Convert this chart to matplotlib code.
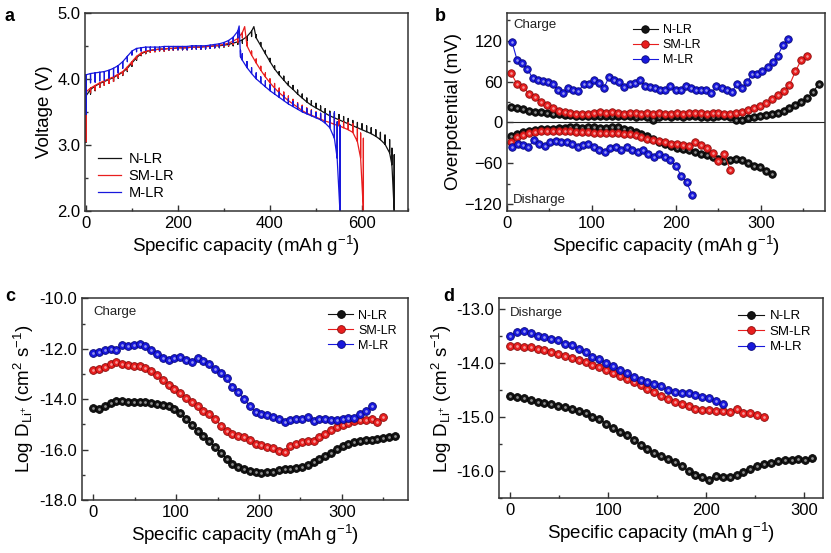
import numpy as np
import matplotlib
matplotlib.use('Agg')
import matplotlib.pyplot as plt
from matplotlib.ticker import MultipleLocator, FormatStrFormatter

plt.rcParams['font.family'] = ['Liberation Sans', 'DejaVu Sans']
plt.rcParams['mathtext.default'] = 'regular'

labels = ['N-LR', 'SM-LR', 'M-LR']
colors = ['#141414', '#e81e1e', '#1818dc']
edges = ['#000000', '#8a0c0c', '#08087a']

# ---- panel a: GITT voltage profiles (pulse end voltage + relaxation length)
a_chg_cap = [np.append(np.arange(0, 361, 10), 365),
             np.append(np.arange(0, 341, 10), 345),
             np.append(np.arange(0, 331, 10), 333)]
a_chg_v = [
    [3.74, 3.84, 3.89, 3.93, 3.96, 3.99, 4.02, 4.06, 4.10, 4.16, 4.24, 4.32, 4.38,
     4.41, 4.43, 4.44, 4.45, 4.45, 4.46, 4.46, 4.47, 4.47, 4.47, 4.48, 4.48, 4.48,
     4.49, 4.49, 4.50, 4.50, 4.51, 4.52, 4.54, 4.56, 4.59, 4.64, 4.72, 4.79],
    [3.80, 3.86, 3.90, 3.94, 3.97, 4.00, 4.03, 4.07, 4.11, 4.18, 4.26, 4.34, 4.39,
     4.42, 4.43, 4.44, 4.45, 4.45, 4.46, 4.46, 4.47, 4.47, 4.47, 4.48, 4.48, 4.48,
     4.49, 4.49, 4.50, 4.51, 4.52, 4.54, 4.57, 4.61, 4.70, 4.79],
    [4.06, 4.08, 4.09, 4.10, 4.11, 4.13, 4.16, 4.20, 4.26, 4.34, 4.42, 4.46, 4.47,
     4.48, 4.48, 4.48, 4.48, 4.49, 4.49, 4.49, 4.49, 4.49, 4.49, 4.50, 4.50, 4.50,
     4.50, 4.51, 4.52, 4.53, 4.55, 4.58, 4.63, 4.72, 4.80],
]
a_chg_relax = [
    [0.70, 0.07, 0.07, 0.06, 0.06, 0.06, 0.06, 0.05, 0.05, 0.05, 0.05, 0.04, 0.03,
     0.03, 0.03, 0.03, 0.03, 0.03, 0.03, 0.03, 0.03, 0.03, 0.03, 0.03, 0.03, 0.03,
     0.03, 0.03, 0.03, 0.03, 0.03, 0.03, 0.04, 0.04, 0.05, 0.06, 0.08, 0.0],
    [0.75, 0.07, 0.07, 0.07, 0.07, 0.07, 0.07, 0.05, 0.05, 0.05, 0.05, 0.04, 0.03,
     0.03, 0.03, 0.03, 0.03, 0.03, 0.03, 0.03, 0.03, 0.03, 0.03, 0.03, 0.03, 0.03,
     0.03, 0.03, 0.03, 0.03, 0.03, 0.04, 0.05, 0.06, 0.08, 0.0],
    [0.60, 0.14, 0.14, 0.13, 0.13, 0.12, 0.12, 0.11, 0.10, 0.08, 0.06, 0.05, 0.05,
     0.05, 0.05, 0.05, 0.05, 0.05, 0.05, 0.05, 0.05, 0.05, 0.05, 0.05, 0.05, 0.05,
     0.05, 0.05, 0.05, 0.05, 0.05, 0.06, 0.08, 0.10, 0.0],
]
a_dis_cap = [np.append(np.arange(370, 661, 10), [665, 670]),
             np.append(np.arange(350, 591, 10), [597, 603]),
             np.concatenate([[336], np.arange(340, 541, 10), [546, 552]])]
a_dis_v = [
    [4.62, 4.50, 4.38, 4.26, 4.15, 4.06, 3.98, 3.90, 3.84, 3.77, 3.71, 3.65, 3.60,
     3.56, 3.52, 3.48, 3.44, 3.41, 3.38, 3.35, 3.32, 3.29, 3.26, 3.23, 3.20, 3.17,
     3.13, 3.08, 3.01, 2.88, 2.70, 2.00],
    [4.50, 4.36, 4.24, 4.13, 4.03, 3.94, 3.86, 3.79, 3.73, 3.67, 3.62, 3.57, 3.52,
     3.48, 3.45, 3.42, 3.39, 3.36, 3.34, 3.31, 3.29, 3.26, 3.23, 3.19, 3.05, 2.80, 2.00],
    [4.33, 4.28, 4.17, 4.08, 4.00, 3.94, 3.88, 3.82, 3.77, 3.72, 3.67, 3.62, 3.58,
     3.54, 3.50, 3.47, 3.44, 3.41, 3.38, 3.33, 3.26, 3.10, 2.80, 2.00],
]
a_dis_relax = [
    [0.05, 0.05, 0.05, 0.05, 0.05, 0.05, 0.06, 0.06, 0.06, 0.06, 0.06, 0.06, 0.07,
     0.07, 0.07, 0.07, 0.07, 0.07, 0.08, 0.08, 0.08, 0.08, 0.08, 0.09, 0.09, 0.09,
     0.10, 0.11, 0.14, 0.20, 0.25, 0.85],
    [0.06, 0.06, 0.06, 0.06, 0.06, 0.06, 0.07, 0.07, 0.07, 0.07, 0.07, 0.07, 0.08,
     0.08, 0.08, 0.08, 0.08, 0.08, 0.09, 0.09, 0.09, 0.09, 0.11, 0.13, 0.20, 0.38, 1.10],
    [0.10, 0.10, 0.09, 0.09, 0.09, 0.09, 0.09, 0.09, 0.08, 0.08, 0.08, 0.08, 0.08,
     0.08, 0.08, 0.08, 0.08, 0.08, 0.10, 0.14, 0.22, 0.40, 0.55, 1.30],
]

# ---- panel b: overpotential (mV)
b_chg_x0 = [5, 5, 6]
b_chg_dx = [7, 7, 6.04]
b_chg = [
    [23, 21, 19, 17, 16, 15, 14, 13, 12, 11, 11, 10, 10, 9, 9, 10, 9, 9, 10, 9,
     9, 8, 9, 8, 4, 8, 9, 8, 9, 8, 9, 9, 8, 8, 8, 9, 10, 8, 3, 4,
     6, 8, 10, 11, 12, 14, 17, 21, 26, 30, 36, 45, 57],
    [72, 56, 52, 42, 37, 30, 25, 21, 17, 15, 14, 13, 13, 13, 14, 15, 14, 15, 14, 13,
     14, 14, 13, 14, 13, 14, 13, 13, 14, 13, 14, 14, 14, 13, 14, 14, 13, 13, 14, 15,
     18, 21, 24, 28, 34, 40, 46, 55, 75, 92, 97],
    [118, 91, 87, 79, 65, 63, 61, 59, 56, 47, 43, 50, 47, 46, 56, 57, 62, 58, 51, 67,
     62, 59, 52, 56, 58, 63, 53, 52, 50, 48, 48, 53, 47, 48, 53, 50, 48, 48, 47, 43,
     53, 51, 48, 45, 56, 51, 59, 71, 71, 76, 81, 89, 98, 113, 123],
]
b_dis_x0 = [5, 5, 6]
b_dis_dx = [7, 7, 6.45]
b_dis = [
    [-20, -17, -14, -12, -11, -10, -9, -9, -8, -8, -7, -7, -8, -7, -6, -8, -8, -7, -6, -9,
     -11, -14, -17, -20, -24, -28, -32, -35, -37, -39, -41, -44, -46, -48, -50, -53, -56,
     -55, -53, -55, -59, -64, -66, -72, -75],
    [-28, -22, -18, -16, -14, -13, -13, -12, -12, -13, -13, -14, -14, -14, -15, -15, -16,
     -16, -16, -17, -17, -18, -21, -24, -26, -27, -29, -31, -32, -33, -34, -29, -33, -38,
     -45, -57, -47, -70],
    [-36, -31, -33, -36, -26, -31, -35, -29, -27, -29, -29, -31, -36, -33, -31, -36, -41,
     -43, -38, -36, -40, -36, -40, -43, -41, -46, -50, -47, -50, -55, -64, -78, -88, -106],
]

# ---- panel c: log D during charge
c_dx = 7
c_logd = [
    [-14.37, -14.38, -14.28, -14.15, -14.07, -14.08, -14.10, -14.10, -14.11, -14.12,
     -14.15, -14.18, -14.22, -14.28, -14.38, -14.55, -14.78, -15.02, -15.25, -15.45,
     -15.65, -15.90, -16.12, -16.38, -16.58, -16.70, -16.78, -16.84, -16.88, -16.92,
     -16.87, -16.90, -16.82, -16.76, -16.78, -16.72, -16.70, -16.62, -16.50, -16.38,
     -16.26, -16.12, -15.98, -15.86, -15.76, -15.70, -15.64, -15.62, -15.60, -15.58,
     -15.55, -15.52, -15.46],
    [-12.84, -12.79, -12.73, -12.62, -12.51, -12.60, -12.66, -12.67, -12.69, -12.75,
     -12.90, -13.06, -13.24, -13.42, -13.58, -13.74, -13.94, -14.12, -14.28, -14.45,
     -14.60, -14.78, -15.05, -15.27, -15.38, -15.46, -15.52, -15.62, -15.77, -15.83,
     -15.88, -15.94, -16.05, -16.08, -15.85, -15.79, -15.68, -15.64, -15.64, -15.52,
     -15.40, -15.22, -15.12, -15.02, -14.96, -14.88, -14.84, -14.82, -14.78, -14.90,
     -14.72],
    [-12.16, -12.12, -12.06, -12.00, -12.04, -11.87, -11.90, -11.86, -11.82, -11.88,
     -12.05, -12.22, -12.38, -12.44, -12.36, -12.32, -12.46, -12.52, -12.38, -12.48,
     -12.62, -12.80, -12.95, -13.18, -13.52, -13.72, -13.98, -14.28, -14.52, -14.57,
     -14.62, -14.70, -14.80, -14.90, -14.84, -14.80, -14.77, -14.70, -14.88, -14.80,
     -14.80, -14.82, -14.81, -14.79, -14.76, -14.74, -14.58, -14.46, -14.28],
]

# ---- panel d: log D during discharge
d_dx = 7
d_logd = [
    [-14.61, -14.63, -14.65, -14.68, -14.71, -14.74, -14.76, -14.79, -14.81, -14.85,
     -14.88, -14.92, -14.99, -15.04, -15.12, -15.20, -15.27, -15.32, -15.42, -15.51,
     -15.58, -15.66, -15.72, -15.77, -15.83, -15.90, -16.00, -16.07, -16.10, -16.16,
     -16.08, -16.11, -16.10, -16.06, -16.01, -15.95, -15.90, -15.86, -15.84, -15.81,
     -15.80, -15.80, -15.78, -15.80, -15.76],
    [-13.69, -13.69, -13.70, -13.71, -13.73, -13.76, -13.79, -13.83, -13.86, -13.90,
     -13.94, -13.98, -14.03, -14.07, -14.12, -14.19, -14.24, -14.29, -14.34, -14.40,
     -14.47, -14.53, -14.60, -14.66, -14.71, -14.76, -14.80, -14.84, -14.87, -14.87,
     -14.88, -14.89, -14.90, -14.84, -14.92, -14.93, -14.96, -15.00],
    [-13.49, -13.43, -13.41, -13.44, -13.49, -13.52, -13.55, -13.58, -13.65, -13.67,
     -13.73, -13.80, -13.88, -13.93, -13.99, -14.06, -14.13, -14.19, -14.25, -14.31,
     -14.35, -14.39, -14.43, -14.49, -14.53, -14.56, -14.56, -14.59, -14.62, -14.65,
     -14.70, -14.76],
]

XLABEL = 'Specific capacity (mAh g$^{-1}$)'
LOGD = 'Log D$_{Li^{+}}$ (cm$^{2}$ s$^{-1}$)'


def style(ax):
    for s in ax.spines.values():
        s.set_linewidth(1.1)
        s.set_color('#333333')
    ax.tick_params(which='both', direction='in', labelsize=12, width=1.0,
                   color='#333333', top=False, right=False)
    ax.tick_params(which='major', length=4)
    ax.tick_params(which='minor', length=2.2)
    ax.set_xlabel(XLABEL, fontsize=13.5, labelpad=2)


def balls(ax, x, y, i, ms):
    ax.plot(x, y, '-', color=colors[i], lw=0.8, marker='o', ms=ms, mfc=colors[i],
            mec=edges[i], mew=0.6, label=labels[i])
    ax.plot(x, y, 'o', ms=ms * 0.35, mfc='white', mec='none', alpha=0.55)


fig = plt.figure(figsize=(8.31, 5.53), dpi=100)
ax_a = fig.add_axes([0.1023, 0.6184, 0.3887, 0.3586])
ax_b = fig.add_axes([0.6101, 0.6184, 0.3827, 0.3586])
ax_c = fig.add_axes([0.0983, 0.0958, 0.3927, 0.3648])
ax_d = fig.add_axes([0.6008, 0.0989, 0.3895, 0.3617])

# a
for i in range(3):
    cap = np.concatenate([a_chg_cap[i], a_dis_cap[i]])
    v = np.concatenate([a_chg_v[i], a_dis_v[i]])
    dv = np.concatenate([-np.array(a_chg_relax[i]), a_dis_relax[i]])
    xs = np.repeat(cap, 3)
    ys = np.column_stack([v, v + dv, v]).ravel()
    ax_a.plot(xs, ys, color=colors[i], lw=0.9, label=labels[i])
ax_a.set_xlim(-2, 700)
ax_a.set_ylim(2.0, 5.0)
ax_a.xaxis.set_major_locator(MultipleLocator(200))
ax_a.xaxis.set_minor_locator(MultipleLocator(100))
ax_a.yaxis.set_major_locator(MultipleLocator(1.0))
ax_a.yaxis.set_minor_locator(MultipleLocator(0.5))
ax_a.yaxis.set_major_formatter(FormatStrFormatter('%.1f'))
style(ax_a)
ax_a.set_ylabel('Voltage (V)', fontsize=13.5, labelpad=3)
ax_a.legend(loc='lower left', bbox_to_anchor=(0.0, -0.01), frameon=False,
            fontsize=10.5, handlelength=1.6, labelspacing=0.2, handletextpad=0.5)

# b
for i in range(3):
    x = b_chg_x0[i] + b_chg_dx[i] * np.arange(len(b_chg[i]))
    balls(ax_b, x, b_chg[i], i, 5.4)
h, l = ax_b.get_legend_handles_labels()
for i in range(3):
    x = b_dis_x0[i] + b_dis_dx[i] * np.arange(len(b_dis[i]))
    balls(ax_b, x, b_dis[i], i, 5.4)
ax_b.axhline(0, color='#222222', lw=0.8, zorder=0)
ax_b.set_xlim(0, 376)
ax_b.set_ylim(-130, 161)
ax_b.xaxis.set_major_locator(MultipleLocator(100))
ax_b.xaxis.set_minor_locator(MultipleLocator(50))
ax_b.yaxis.set_major_locator(MultipleLocator(60))
ax_b.yaxis.set_minor_locator(MultipleLocator(30))
style(ax_b)
ax_b.set_ylabel('Overpotential (mV)', fontsize=13.5, labelpad=2)
ax_b.text(0.02, 0.94, 'Charge', transform=ax_b.transAxes, fontsize=9.5,
          va='center', color='#222222')
ax_b.text(0.02, 0.055, 'Disharge', transform=ax_b.transAxes, fontsize=9.5,
          va='center', color='#222222')
ax_b.legend(h, l, loc='upper left', bbox_to_anchor=(0.36, 1.0), frameon=False,
            fontsize=9, handlelength=2.0, labelspacing=0.25, handletextpad=0.4)

# c
for i in range(3):
    x = c_dx * np.arange(len(c_logd[i]))
    balls(ax_c, x, c_logd[i], i, 5.6)
ax_c.set_xlim(-14, 380)
ax_c.set_ylim(-18, -10)
ax_c.xaxis.set_major_locator(MultipleLocator(100))
ax_c.xaxis.set_minor_locator(MultipleLocator(50))
ax_c.yaxis.set_major_locator(MultipleLocator(2))
ax_c.yaxis.set_minor_locator(MultipleLocator(1))
ax_c.yaxis.set_major_formatter(FormatStrFormatter('%.1f'))
style(ax_c)
ax_c.set_ylabel(LOGD, fontsize=13.5, labelpad=2)
ax_c.text(0.035, 0.93, 'Charge', transform=ax_c.transAxes, fontsize=9.5,
          va='center', color='#222222')
ax_c.legend(loc='upper right', bbox_to_anchor=(1.0, 1.0), frameon=False,
            fontsize=9, handlelength=2.0, labelspacing=0.25, handletextpad=0.4)

# d
for i in range(3):
    x = d_dx * np.arange(len(d_logd[i]))
    balls(ax_d, x, d_logd[i], i, 5.6)
ax_d.set_xlim(-11, 319)
ax_d.set_ylim(-16.5, -12.8)
ax_d.xaxis.set_major_locator(MultipleLocator(100))
ax_d.xaxis.set_minor_locator(MultipleLocator(50))
ax_d.yaxis.set_major_locator(MultipleLocator(1))
ax_d.yaxis.set_minor_locator(MultipleLocator(0.5))
ax_d.yaxis.set_major_formatter(FormatStrFormatter('%.1f'))
style(ax_d)
ax_d.set_ylabel(LOGD, fontsize=13.5, labelpad=2)
ax_d.text(0.033, 0.925, 'Disharge', transform=ax_d.transAxes, fontsize=9.5,
          va='center', color='#222222')
ax_d.legend(loc='upper right', bbox_to_anchor=(1.0, 1.0), frameon=False,
            fontsize=9.5, handlelength=2.0, labelspacing=0.25, handletextpad=0.4)

# panel letters
for txt, x, y in [('a', 0.006, 0.985), ('b', 0.523, 0.985),
                  ('c', 0.006, 0.48), ('d', 0.533, 0.48)]:
    fig.text(x, y, txt, fontsize=13, fontweight='bold', va='top')

fig.savefig('out.png', dpi=100)
